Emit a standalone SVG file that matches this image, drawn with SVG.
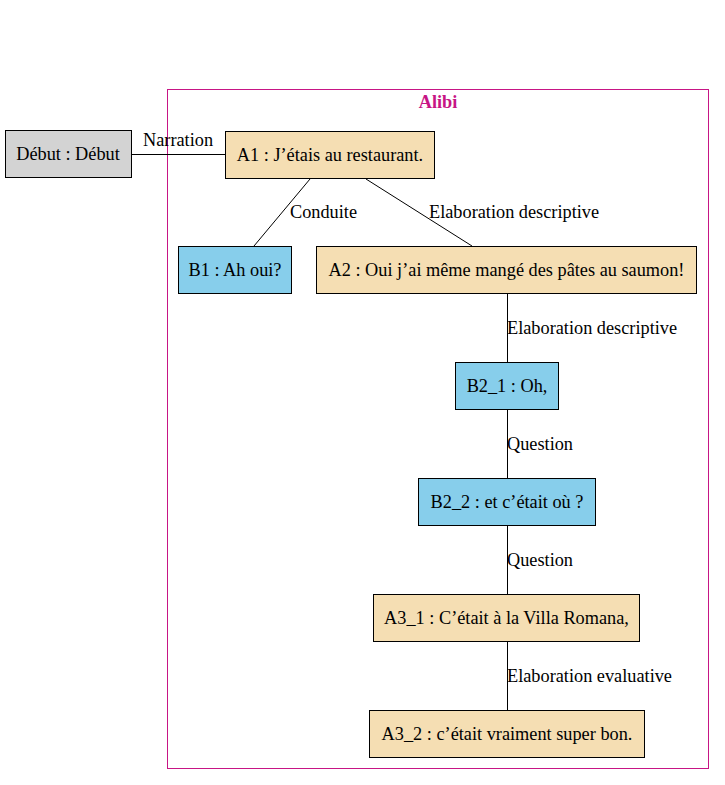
<svg xmlns="http://www.w3.org/2000/svg" width="725" height="785" viewBox="0 0 725 785">
<style>
text{font-family:"Liberation Serif","Times New Roman",serif;font-size:18.3px;fill:#000}
.n rect{stroke:#000;stroke-width:1}
.n text{text-anchor:middle}
.a rect{fill:#f5deb3}
.b rect{fill:#87ceeb}
.e line{stroke:#000;stroke-width:1}
</style>
<rect width="725" height="785" fill="#fff"/>
<g id="cluster_Alibi">
<rect x="167.5" y="89.5" width="541" height="679" fill="none" stroke="#c71585" stroke-width="1"/>
<text x="438" y="108" text-anchor="middle" font-weight="bold" style="fill:#c71585">Alibi</text>
</g>
<g id="edges" class="e">
<line x1="132" y1="154.5" x2="225" y2="154.5"/>
<text x="143" y="146">Narration</text>
<line x1="310" y1="179" x2="254" y2="246"/>
<text x="290" y="218">Conduite</text>
<line x1="366" y1="179" x2="472" y2="246"/>
<text x="429" y="218">Elaboration descriptive</text>
<line x1="507.5" y1="294" x2="507.5" y2="362"/>
<text x="507" y="334">Elaboration descriptive</text>
<line x1="507.5" y1="410" x2="507.5" y2="478"/>
<text x="507" y="450">Question</text>
<line x1="507.5" y1="526" x2="507.5" y2="594"/>
<text x="507" y="566">Question</text>
<line x1="507.5" y1="642" x2="507.5" y2="710"/>
<text x="507" y="682">Elaboration evaluative</text>
</g>
<g id="Debut" class="n">
<rect x="5.5" y="130.5" width="126" height="47" fill="#d3d3d3"/>
<text x="68" y="160">Début : Début</text>
</g>
<g id="A1" class="n a">
<rect x="225.5" y="131.5" width="209" height="47"/>
<text x="330" y="161">A1 : J’étais au restaurant.</text>
</g>
<g id="B1" class="n b">
<rect x="178.5" y="246.5" width="113" height="47"/>
<text x="235" y="276">B1 : Ah oui?</text>
</g>
<g id="A2" class="n a">
<rect x="316.5" y="246.5" width="380" height="47"/>
<text x="506.5" y="276">A2 : Oui j’ai même mangé des pâtes au saumon!</text>
</g>
<g id="B2_1" class="n b">
<rect x="455.5" y="362.5" width="103" height="47"/>
<text x="507" y="392">B2_1 : Oh,</text>
</g>
<g id="B2_2" class="n b">
<rect x="418.5" y="478.5" width="177" height="47"/>
<text x="507" y="508">B2_2 : et c’était où ?</text>
</g>
<g id="A3_1" class="n a">
<rect x="373.5" y="594.5" width="266" height="47"/>
<text x="506.5" y="624">A3_1 : C’était à la Villa Romana,</text>
</g>
<g id="A3_2" class="n a">
<rect x="369.5" y="710.5" width="275" height="47"/>
<text x="507" y="740">A3_2 : c’était vraiment super bon.</text>
</g>
</svg>
